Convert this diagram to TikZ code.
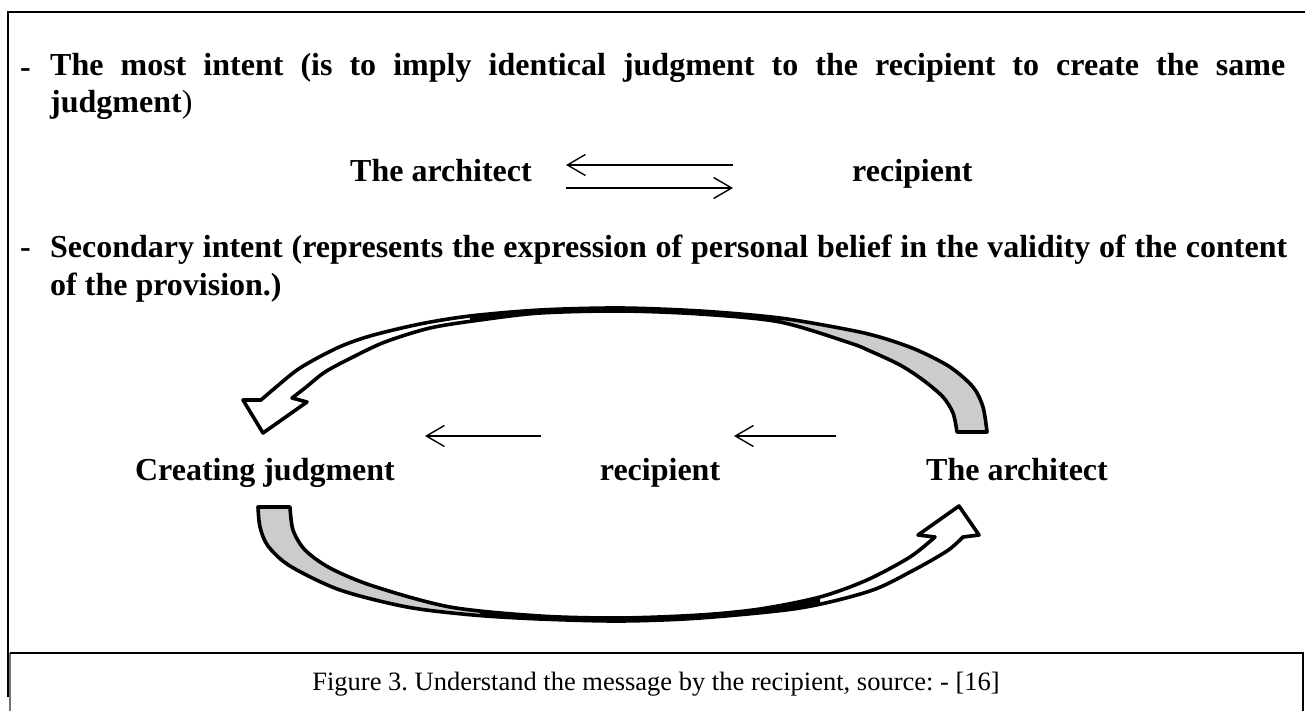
\documentclass[tikz,border=0pt]{standalone}
\usepackage{fontspec}
\setmainfont{Liberation Serif}
\usetikzlibrary{arrows.meta}
\frenchspacing
\begin{document}
\begin{tikzpicture}[x=1pt,y=-1pt,
  txt/.style={inner sep=0pt, anchor=base west, font=\fontsize{32}{37}\selectfont\bfseries},
  ctxt/.style={inner sep=0pt, anchor=base, font=\fontsize{32}{37}\selectfont\bfseries},
  captxt/.style={inner sep=0pt, anchor=base, font=\fontsize{26.5}{30}\selectfont},
  thinarrow/.style={line width=1.4pt, -{Straight Barb[length=18pt,width=21pt,line width=1.4pt]}},
  ribbon/.style={line width=3.6pt, line join=round},
  shade/.style={fill=black!20},
  frameline/.style={line width=2pt}]
\useasboundingbox (0,0) rectangle (1305,711);

% outer frame
\draw[frameline] (8,697) -- (8,12) -- (1305,12);

% bullet 1
\node[txt] (d1) at (20,78) {-};
\node[txt] (b1a) at (50,76) {\makebox[1235pt][s]{The most intent (is to imply identical judgment to the recipient to create the same}};
\node[txt] (b1b) at (50,113) {judgment\mdseries)};

% row 1
\node[txt] (arch1) at (350,182) {The architect};
\node[txt] (rec1) at (852,182) {recipient};
\coordinate (t1a) at (733,165);
\coordinate (t1b) at (566,165);
\coordinate (t2a) at (566,188);
\coordinate (t2b) at (733,188);
\draw[thinarrow] (t1a) -- (t1b);
\draw[thinarrow] (t2a) -- (t2b);

% bullet 2
\node[txt] (d2) at (20,258) {-};
\node[txt] (b2a) at (50,258) {\makebox[1237pt][s]{Secondary intent (represents the expression of personal belief in the validity of the content}};
\node[txt] (b2b) at (50,295) {of the provision.)};

% row 2
\node[ctxt] (create) at (265,480) {Creating judgment};
\node[ctxt] (rec2) at (660,480) {recipient};
\node[ctxt] (arch2) at (1017,480) {The architect};
\coordinate (m1a) at (541,436);
\coordinate (m1b) at (425,436);
\coordinate (m2a) at (836,436);
\coordinate (m2b) at (734,436);
\draw[thinarrow] (m1a) -- (m1b);
\draw[thinarrow] (m2a) -- (m2b);

% upper curved arrow
\def\upA{(987,432) (983,407) (973,387) (950,367) (917,350) (883,338) (850,330) (780,318) (700,311) (620,308) (540,310) (470,316) (420,324) (370,336) (337,348) (300,368) (275,388) (261,400)}
\def\upB{(292,398) (305,388) (325,372) (353,357) (385,342) (430,328) (480,320) (540,313) (620,311) (700,314) (780,322) (850,343) (870,351) (900,365) (923,380) (943,397) (953,413) (957,432)}
\begin{scope}
\clip (700,290) rectangle (1000,440);
\fill[shade] plot[smooth] coordinates {\upA} -- plot[smooth] coordinates {\upB} -- cycle;
\end{scope}
\begin{scope}
\clip (470,290) rectangle (720,340);
\fill[black] plot[smooth] coordinates {\upA} -- plot[smooth] coordinates {\upB} -- cycle;
\end{scope}
\draw[ribbon] plot[smooth] coordinates {\upA}
  -- (243,400) -- (263,433) -- (307,402)
  -- plot[smooth] coordinates {\upB}
  -- cycle;

% lower curved arrow
\def\loC{(258,507) (260,527) (268,546) (290,566) (340,590) (407,607) (473,615) (540,619) (620,621) (700,618) (800,608) (870,591) (912,571) (947,551) (963,537)}
\def\loD{(935,537) (910,557) (867,580) (820,597) (760,609) (700,615) (620,618) (540,616) (450,607) (373,586) (330,568) (305,550) (293,530) (290,507)}
\begin{scope}
\clip (240,500) rectangle (490,630);
\fill[shade] plot[smooth] coordinates {\loC} -- (979,535) -- (959,506) -- (918,535) -- plot[smooth] coordinates {\loD} -- cycle;
\end{scope}
\begin{scope}
\clip (480,590) rectangle (820,630);
\fill[black] plot[smooth] coordinates {\loC} -- (979,535) -- (959,506) -- (918,535) -- plot[smooth] coordinates {\loD} -- cycle;
\end{scope}
\draw[ribbon] plot[smooth] coordinates {\loC}
  -- (979,535) -- (959,506) -- (918,535)
  -- plot[smooth] coordinates {\loD}
  -- cycle;

% caption box
\draw[line width=1.5pt, black!55] (10,711) -- (10,653);
\draw[line width=1.5pt] (10,653) -- (1303,653) -- (1303,711);
\node[captxt] (cap) at (656,690) {Figure 3. Understand the message by the recipient, source: - [16]};
\end{tikzpicture}
\end{document}
